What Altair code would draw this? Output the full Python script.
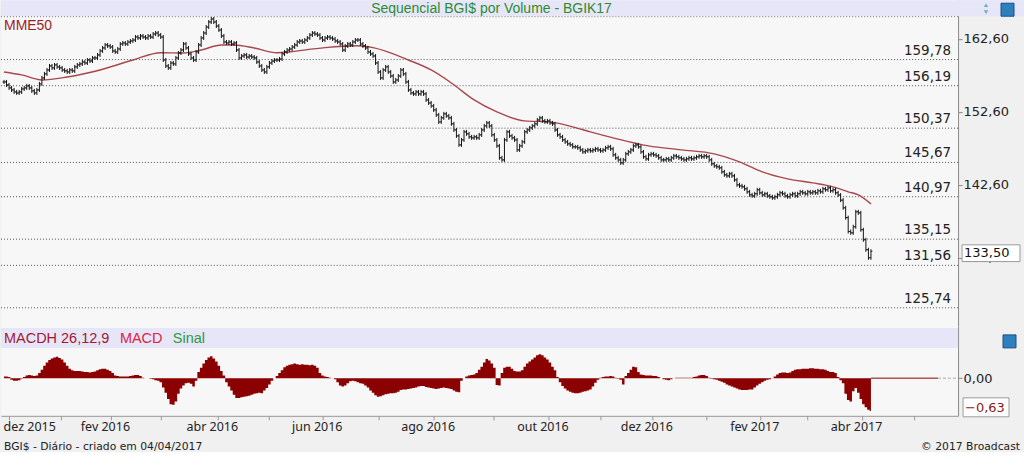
import altair as alt
import pandas as pd

# ---------------- data ----------------
close = [
    156.71, 156.30, 155.89, 155.61, 155.34, 155.20, 155.34, 155.75, 155.89, 156.16,
    155.89, 155.48, 155.20, 155.61, 156.44, 157.26, 157.81, 158.35, 158.90, 158.63,
    159.04, 158.77, 158.63, 158.35, 158.22, 158.08, 158.35, 158.22, 158.77, 159.04,
    159.18, 159.45, 159.31, 159.72, 159.58, 160.00, 160.00, 160.41, 160.96, 161.37,
    161.78, 161.64, 161.50, 160.96, 160.82, 161.23, 161.92, 162.05, 161.92, 162.19,
    162.33, 162.46, 162.87, 162.74, 163.01, 162.87, 162.74, 163.01, 162.87, 163.28,
    163.42, 163.15, 162.87, 159.72, 158.90, 158.63, 159.31, 159.18, 160.00, 160.68,
    161.09, 161.92, 161.37, 160.55, 160.00, 159.72, 160.82, 161.78, 162.74, 163.42,
    164.24, 164.93, 165.34, 164.93, 164.38, 163.83, 163.01, 162.19, 162.05, 162.19,
    161.92, 162.05, 161.09, 160.00, 160.27, 160.41, 160.13, 160.27, 160.13, 160.00,
    159.45, 158.90, 158.35, 158.08, 158.77, 159.31, 159.58, 159.72, 159.72, 159.86,
    160.55, 160.82, 161.09, 161.23, 161.50, 161.78, 162.19, 162.33, 162.19, 162.46,
    162.74, 163.15, 163.42, 163.28, 163.15, 162.74, 162.46, 162.74, 162.87, 162.74,
    162.60, 162.33, 162.19, 161.92, 161.09, 161.64, 161.92, 161.78, 162.19, 162.46,
    162.46, 161.92, 161.64, 161.37, 160.82, 160.55, 160.27, 159.31, 158.08, 157.26,
    158.35, 158.77, 158.08, 157.53, 156.71, 156.98, 157.53, 158.35, 157.81, 156.71,
    155.61, 155.20, 155.07, 155.34, 155.07, 155.34, 155.07, 154.24, 153.83, 153.42,
    152.87, 152.19, 151.23, 151.78, 152.33, 152.05, 151.78, 150.96, 150.13, 149.31,
    148.08, 148.76, 149.86, 149.59, 149.18, 149.04, 149.18, 149.04, 149.45, 150.13,
    150.68, 151.09, 150.68, 149.45, 148.76, 147.94, 146.30, 146.02, 148.76, 149.86,
    149.31, 149.04, 148.76, 147.39, 147.94, 148.49, 149.86, 150.13, 150.41, 150.68,
    150.96, 151.50, 151.78, 151.37, 151.23, 151.37, 151.09, 150.96, 150.13, 149.45,
    149.18, 148.76, 148.49, 148.22, 148.08, 147.81, 147.81, 147.67, 147.39, 147.12,
    147.26, 147.39, 147.26, 147.39, 147.53, 147.39, 147.26, 147.39, 147.67, 147.81,
    147.53, 146.71, 146.30, 146.02, 145.61, 146.02, 146.85, 147.12, 147.39, 147.94,
    148.08, 147.81, 147.12, 146.44, 146.16, 146.71, 146.85, 146.71, 146.57, 146.30,
    146.02, 146.02, 146.16, 146.02, 146.30, 146.57, 146.44, 146.30, 146.16, 146.02,
    146.16, 146.30, 146.16, 146.30, 146.44, 146.57, 146.44, 146.57, 146.44, 146.02,
    145.48, 145.20, 145.07, 144.93, 144.38, 143.97, 143.83, 144.11, 143.83, 143.28,
    142.60, 142.46, 142.33, 142.05, 141.64, 141.23, 141.09, 141.37, 141.92, 141.50,
    141.23, 141.37, 141.09, 140.96, 140.82, 140.96, 141.23, 141.50, 141.37, 141.09,
    140.96, 141.23, 141.37, 141.09, 141.37, 141.64, 141.50, 141.37, 141.64, 141.50,
    141.64, 141.50, 141.78, 141.64, 142.05, 141.92, 142.19, 141.78, 141.92, 141.50,
    141.20, 140.50, 139.45, 138.10, 136.20, 136.02, 136.85, 138.90, 138.76, 136.44,
    135.07, 133.70, 132.60, 133.50,
]

macdh = [
    0.03, 0.03, 0.02, -0.03, -0.05, -0.05, -0.04, -0.01, 0.02, 0.05,
    0.06, 0.05, 0.04, 0.05, 0.10, 0.16, 0.24, 0.30, 0.35, 0.38,
    0.40, 0.41, 0.39, 0.36, 0.30, 0.24, 0.18, 0.15, 0.14, 0.14,
    0.14, 0.13, 0.12, 0.12, 0.11, 0.12, 0.13, 0.15, 0.17, 0.18,
    0.18, 0.16, 0.14, 0.10, 0.05, 0.04, 0.03, 0.03, 0.03, 0.03,
    0.04, 0.05, 0.06, 0.06, 0.04, 0.01, 0.00, 0.00, -0.01, -0.02,
    -0.04, -0.05, -0.08, -0.18, -0.28, -0.40, -0.50, -0.51, -0.45, -0.30,
    -0.20, -0.14, -0.10, -0.09, -0.11, -0.16, -0.05, 0.12, 0.20, 0.28,
    0.35, 0.40, 0.42, 0.38, 0.32, 0.24, 0.14, 0.05, -0.08, -0.16,
    -0.24, -0.32, -0.38, -0.38, -0.37, -0.36, -0.35, -0.34, -0.32, -0.30,
    -0.29, -0.28, -0.29, -0.24, -0.19, -0.12, -0.05, 0.00, 0.04, 0.10,
    0.15, 0.21, 0.24, 0.26, 0.27, 0.28, 0.27, 0.26, 0.27, 0.26,
    0.26, 0.25, 0.26, 0.24, 0.20, 0.10, 0.05, 0.03, 0.02, 0.01,
    0.00, -0.02, -0.08, -0.14, -0.16, -0.14, -0.10, -0.06, -0.05, -0.06,
    -0.08, -0.10, -0.11, -0.14, -0.18, -0.24, -0.28, -0.33, -0.36, -0.35,
    -0.33, -0.31, -0.30, -0.29, -0.29, -0.28, -0.26, -0.23, -0.22, -0.22,
    -0.21, -0.20, -0.19, -0.18, -0.16, -0.15, -0.15, -0.17, -0.18, -0.19,
    -0.20, -0.21, -0.20, -0.19, -0.18, -0.19, -0.20, -0.21, -0.24, -0.26,
    -0.27, -0.05, 0.00, 0.03, 0.05, 0.06, 0.07, 0.10, 0.16, 0.22,
    0.30, 0.37, 0.34, 0.28, 0.20, -0.13, -0.14, 0.10, 0.20, 0.22,
    0.22, 0.18, 0.14, 0.13, 0.13, 0.15, 0.22, 0.28, 0.32, 0.36,
    0.40, 0.44, 0.46, 0.44, 0.40, 0.36, 0.30, 0.22, 0.15, 0.02,
    -0.08, -0.15, -0.20, -0.24, -0.26, -0.28, -0.29, -0.29, -0.28, -0.26,
    -0.25, -0.24, -0.22, -0.16, -0.09, -0.03, 0.01, 0.02, 0.03, 0.03,
    0.04, 0.03, 0.01, -0.01, -0.03, -0.12, 0.04, 0.10, 0.16, 0.22,
    0.21, 0.12, 0.07, 0.06, 0.05, 0.05, 0.05, 0.04, 0.04, 0.02,
    0.00, -0.02, -0.03, -0.04, -0.02, 0.00, 0.01, 0.01, 0.01, 0.01,
    0.01, 0.01, 0.01, 0.02, 0.03, 0.05, 0.06, 0.06, 0.04, 0.01,
    -0.01, -0.02, -0.03, -0.05, -0.07, -0.09, -0.12, -0.14, -0.16, -0.18,
    -0.20, -0.22, -0.23, -0.23, -0.23, -0.22, -0.22, -0.18, -0.14, -0.11,
    -0.08, -0.05, -0.03, -0.02, 0.00, 0.03, 0.07, 0.10, 0.11, 0.11,
    0.10, 0.11, 0.14, 0.16, 0.17, 0.17, 0.18, 0.18, 0.18, 0.19,
    0.19, 0.18, 0.18, 0.17, 0.17, 0.16, 0.14, 0.12, 0.12, 0.10,
    0.02, -0.04, -0.10, -0.30, -0.42, -0.45, -0.25, -0.19, -0.28, -0.40,
    -0.50, -0.56, -0.61, -0.63,
]

# MME50 (moving average) read at sample points: trading-day index, value
mme_idx = [0, 7, 15, 25, 38, 51, 62, 71, 78, 86, 91, 99, 108, 113, 117, 127, 140, 146,
           160, 169, 177, 186, 195, 206, 216, 225, 232, 241, 255, 268, 281, 291, 300,
           310, 320, 328, 334, 338, 343]
mme_val = [158.08, 157.67, 156.98, 157.39, 158.35, 159.72, 160.72, 160.68, 161.09, 161.78,
           161.78, 161.37, 160.72, 160.82, 161.00, 161.41, 161.68, 161.41, 159.72, 158.35,
           156.57, 154.24, 152.60, 151.37, 151.23, 150.55, 149.86, 149.04, 147.94, 147.40,
           146.85, 145.75, 144.38, 143.42, 142.87, 142.33, 141.64, 141.23, 139.99]

levels = [159.78, 156.19, 150.37, 145.67, 140.97, 135.15, 131.56, 125.74]
price_ticks = [132.60, 142.60, 152.60, 162.60]

# month boundaries in trading-day index units and their labels
month_pos = [2, 22.5, 42.3, 62, 84.6, 104.7, 126.1, 148.2, 170, 193.7, 215.4, 236,
             256.5, 277.9, 299.2, 317.8, 339.5, 360.1]
month_lab = ["dez 2015", "", "fev 2016", "", "abr 2016", "", "jun 2016", "", "ago 2016", "",
             "out 2016", "", "dez 2016", "", "fev 2017", "", "abr 2017", ""]

title_txt = "Sequencial BGI$ por Volume - BGIK17"
footer_left = "BGI$ - Diário - criado em 04/04/2017"
footer_right = "© 2017 Broadcast"

# ---------------- layout constants ----------------
W = 958
HA = 326
HB = 90
ZL_END = 369.5
XS = alt.Scale(domain=[-1.19, 377.47], nice=False, zero=False)
YA = alt.Scale(domain=[123.258, 167.915], nice=False, zero=False)
YB = alt.Scale(domain=[-0.725, 1.006], nice=False, zero=False)

LAV = "#e6e6f8"
BAR = "#141414"
HIST = "#8b0000"
COMMA = "replace(format(datum.value, '.2f'), '.', ',')"

N = len(close)
df = pd.DataFrame({"i": list(range(N)), "close": close, "macd": macdh})
mme_df = pd.DataFrame({"mi": mme_idx, "mv": mme_val})
lv_df = pd.DataFrame({"level": levels})
one = pd.DataFrame({"a": [0]})

# ---------------- price panel ----------------
price_axis = alt.Axis(orient="right", values=price_ticks, labelExpr=COMMA, tickSize=4,
                      tickColor="#888", domainColor="#8a8a8a", labelFont="DejaVu Sans",
                      labelFontSize=13, labelColor="#222", labelPadding=1, grid=False,
                      title=None)

ohlc = (alt.Chart(df)
        .transform_window(window=[{"op": "lag", "field": "close", "param": 1, "as": "prev"}],
                          sort=[{"field": "i"}])
        .transform_calculate(open_="datum.prev == null ? datum.close : datum.prev")
        .transform_calculate(hi="max(datum.open_, datum.close)",
                             lo="min(datum.open_, datum.close)"))
XA = alt.X("i:Q", scale=XS, axis=None)

vert = ohlc.mark_rule(color=BAR, strokeWidth=1, yOffset=-2, y2Offset=2).encode(
    x=XA, y=alt.Y("hi:Q", scale=YA, axis=price_axis), y2="lo:Q")
rtick = ohlc.mark_rule(color=BAR, strokeWidth=1, x2Offset=1.5).encode(
    x=XA, x2="i:Q", y=alt.Y("close:Q", scale=YA))
ltick = ohlc.mark_rule(color=BAR, strokeWidth=1, xOffset=-1.5).encode(
    x=XA, x2="i:Q", y=alt.Y("open_:Q", scale=YA))

mme = alt.Chart(mme_df).mark_line(color="#a8484c", strokeWidth=1.4, interpolate="monotone").encode(
    x=alt.X("mi:Q", scale=XS, axis=None), y=alt.Y("mv:Q", scale=YA))

lv_rule = alt.Chart(lv_df).mark_rule(color="#555", strokeWidth=1, strokeDash=[1, 2]).encode(
    y=alt.Y("level:Q", scale=YA))
lv_text = (alt.Chart(lv_df)
           .transform_calculate(lab="replace(format(datum.level, '.2f'), '.', ',')")
           .mark_text(align="right", baseline="alphabetic", dy=-5, font="DejaVu Sans",
                      fontSize=13.5, color="#222")
           .encode(x=alt.value(951), y=alt.Y("level:Q", scale=YA), text="lab:N"))

top_bar = alt.Chart(one).mark_rect(color=LAV).encode(
    x=alt.value(0), x2=alt.value(1024), y=alt.value(0), y2=alt.value(16))
top_dots = alt.Chart(one).mark_rule(color="#777", strokeDash=[1, 2]).encode(
    x=alt.value(0), x2=alt.value(W), y=alt.value(16.5))
title = alt.Chart(pd.DataFrame({"t": [title_txt]})).mark_text(
    font="Liberation Sans", fontSize=14, color="#2e8b2e", baseline="middle").encode(
    x=alt.value(491), y=alt.value(8.5), text="t:N")
mme_lab = alt.Chart(pd.DataFrame({"t": ["MME50"]})).mark_text(
    font="Liberation Sans", fontSize=14, color="#9b1f1f", align="left", baseline="middle").encode(
    x=alt.value(3), y=alt.value(26), text="t:N")

last_close = close[-1]
box_df = pd.DataFrame({"v": [last_close]})
box = alt.Chart(box_df).transform_calculate(
    t="datum.v + 1.15", b="datum.v - 1.15").mark_rect(
    fill="white", stroke="#9a9a9a", strokeWidth=1, yOffset=2, y2Offset=2).encode(
    x=alt.value(962), x2=alt.value(1020), y=alt.Y("t:Q", scale=YA), y2="b:Q")
box_txt = alt.Chart(box_df).transform_calculate(
    lab="replace(format(datum.v, '.2f'), '.', ',')").mark_text(
    font="DejaVu Sans", fontSize=13, color="#111", align="left", baseline="middle", dy=2).encode(
    x=alt.value(964), y=alt.Y("v:Q", scale=YA), text="lab:N")

arrows_up = alt.Chart(one).mark_point(shape="triangle-up", filled=True, color="#2a9a9a", size=18).encode(
    x=alt.value(986), y=alt.value(5))
arrows_dn = alt.Chart(one).mark_point(shape="triangle-down", filled=True, color="#2a9a9a", size=18).encode(
    x=alt.value(986), y=alt.value(12))
icon1 = alt.Chart(one).mark_rect(fill="#2f7fc0", stroke="#1b4f80").encode(
    x=alt.value(1001), x2=alt.value(1014), y=alt.value(3), y2=alt.value(16))

chartA = alt.layer(lv_rule, lv_text, mme, vert, ltick, rtick, mme_lab, box, box_txt,
                   top_bar, top_dots, title, arrows_up, arrows_dn, icon1).properties(width=W, height=HA)

# ---------------- MACD panel ----------------
x_axis = alt.Axis(values=month_pos,
                  labelExpr="[" + ",".join("'" + s + "'" for s in month_lab) + "][indexof(["
                            + ",".join(str(p) for p in month_pos) + "], datum.value)]",
                  tickSize=4, tickColor="#999", domainColor="#999", labelFont="Noto Sans",
                  labelFontSize=12.5, labelColor="#222", labelFlush=20, labelOffset=-6,
                  labelPadding=1, labelOverlap=False, grid=False, title=None)
macd_axis = alt.Axis(orient="right", values=[0], labelExpr=COMMA, tickSize=4, tickColor="#888",
                     domainColor="#8a8a8a", labelFont="DejaVu Sans", labelFontSize=13,
                     labelColor="#222", labelPadding=1, grid=False, title=None)

hist = (alt.Chart(df)
        .transform_calculate(z="0")
        .mark_area(color=HIST, interpolate="step", opacity=1)
        .encode(x=alt.X("i:Q", scale=XS, axis=x_axis),
                y=alt.Y("macd:Q", scale=YB, axis=macd_axis), y2="z:Q"))

zero_ext = alt.Chart(one).mark_rule(color=HIST, strokeWidth=1).encode(
    x=alt.datum(N - 1), x2=alt.datum(ZL_END), y=alt.datum(0))
zero_dash = alt.Chart(one).mark_rule(color="#aaa", strokeDash=[3, 2]).encode(
    x=alt.datum(ZL_END), x2=alt.value(W), y=alt.datum(0))

macd_bar = alt.Chart(one).mark_rect(color=LAV).encode(
    x=alt.value(0), x2=alt.value(W), y=alt.value(2), y2=alt.value(22))
icon2 = alt.Chart(one).mark_rect(fill="#2f7fc0", stroke="#1b4f80").encode(
    x=alt.value(1003), x2=alt.value(1016), y=alt.value(9), y2=alt.value(22))
t1 = alt.Chart(pd.DataFrame({"t": ["MACDH 26,12,9"]})).mark_text(
    font="Liberation Sans", fontSize=14.5, color="#a3192e", align="left", baseline="middle").encode(
    x=alt.value(3), y=alt.value(13), text="t:N")
t2 = alt.Chart(pd.DataFrame({"t": ["MACD"]})).mark_text(
    font="Liberation Sans", fontSize=14.5, color="#e0233c", align="left", baseline="middle").encode(
    x=alt.value(119), y=alt.value(13), text="t:N")
t3 = alt.Chart(pd.DataFrame({"t": ["Sinal"]})).mark_text(
    font="Liberation Sans", fontSize=14.5, color="#2e9a3c", align="left", baseline="middle").encode(
    x=alt.value(172), y=alt.value(13), text="t:N")

last_df = pd.DataFrame({"v": [macdh[-1]]})
mbox = alt.Chart(last_df).mark_rect(fill="white", stroke="#9a9a9a").encode(
    x=alt.value(963), x2=alt.value(1009), y=alt.value(72), y2=alt.value(91))
mbox_txt = alt.Chart(last_df).transform_calculate(
    lab="replace(format(datum.v, '.2f'), '.', ',')").mark_text(
    font="DejaVu Sans", fontSize=13, color="#8b1a1a", align="left", baseline="middle").encode(
    x=alt.value(965), y=alt.value(82), text="lab:N")

foot_l = alt.Chart(pd.DataFrame({"t": [footer_left]})).mark_text(
    font="DejaVu Sans", fontSize=10.8, color="#222", align="left", baseline="middle").encode(
    x=alt.value(3), y=alt.value(121), text="t:N")
foot_r = alt.Chart(pd.DataFrame({"t": [footer_right]})).mark_text(
    font="DejaVu Sans", fontSize=10.8, color="#222", align="right", baseline="middle").encode(
    x=alt.value(1020), y=alt.value(121), text="t:N")

chartB = alt.layer(hist, zero_ext, zero_dash, macd_bar, icon2, t1, t2, t3, mbox, mbox_txt,
                   foot_l, foot_r).properties(width=W, height=HB)

chart = (alt.vconcat(chartA, chartB, spacing=0, padding=0, background="#f0f0f0")
         .resolve_scale(x="independent", y="independent")
         .configure_view(fill="#f7f7f7", stroke=None))

chart.save("out.html", embed_options={"renderer": "svg", "actions": False})
